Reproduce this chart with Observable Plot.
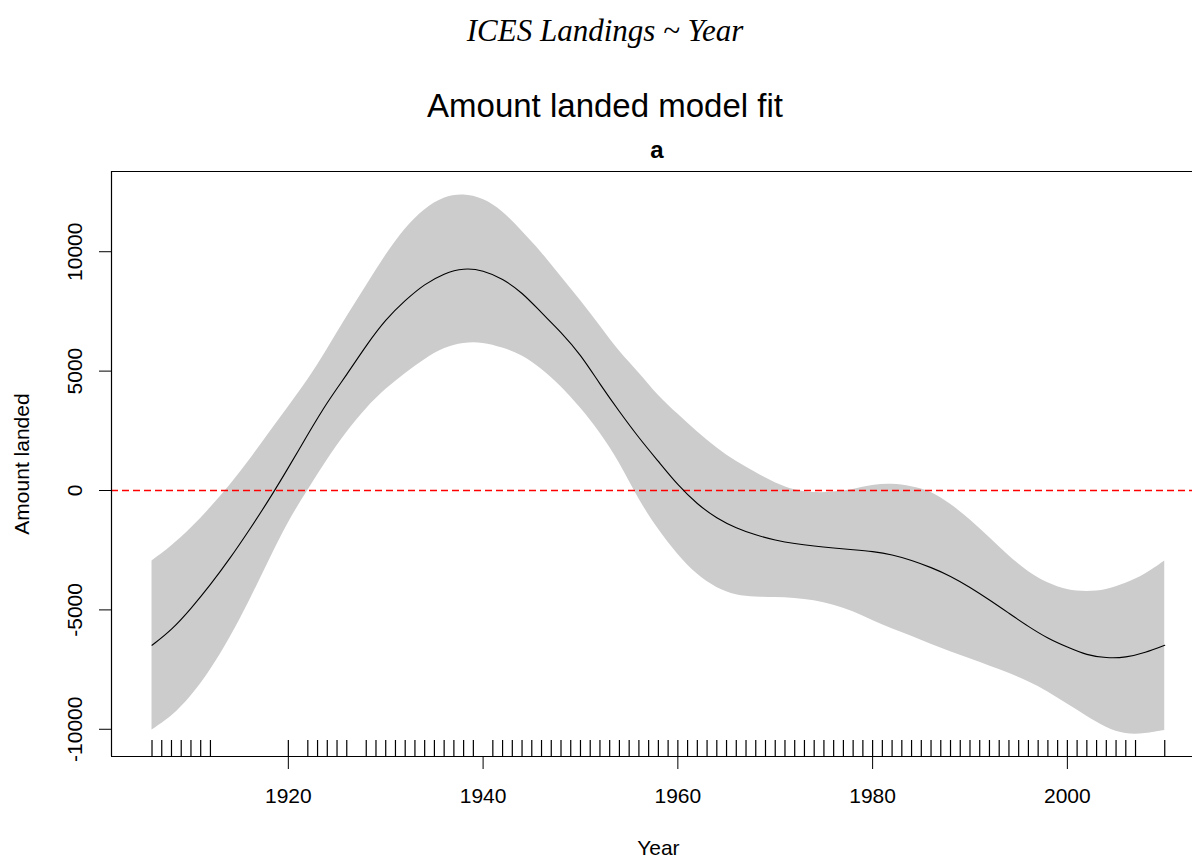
<!DOCTYPE html>
<html>
<head>
<meta charset="utf-8">
<script src="https://cdn.jsdelivr.net/npm/d3@7"></script>
<script src="https://cdn.jsdelivr.net/npm/@observablehq/plot@0.6"></script>
<style>
html, body { margin: 0; padding: 0; background: #fff; }
#wrap { position: relative; width: 1192px; height: 859px; overflow: hidden; font-family: "Liberation Sans", Arial, sans-serif; color: #000; }
#header { position: relative; height: 160px; }
.t { position: absolute; white-space: nowrap; transform: translate(-50%, -50%); line-height: 1; }
#t1 { left: 605px; top: 30px; font-family: "Liberation Serif", serif; font-style: italic; font-size: 31px; }
#t2 { left: 605px; top: 105px; font-size: 33px; }
#t3 { left: 657px; top: 150px; font-size: 24px; font-weight: bold; }
#chart svg { display: block; }
</style>
</head>
<body>
<div id="wrap">
  <div id="header">
    <div class="t" id="t1"></div>
    <div class="t" id="t2"></div>
    <div class="t" id="t3"></div>
  </div>
  <div id="chart"></div>
</div>
<script>
const formulaTitle = "ICES Landings ~ Year";
const mainTitle = "Amount landed model fit";
const panelTitle = "a";
const xLabel = "Year";
const yLabel = "Amount landed";

const years = [1906,1908,1910,1912,1914,1916,1918,1920,1922,1924,1926,1928,1930,1932,1934,1936,1938,1940,1942,1944,1946,1948,1950,1952,1954,1956,1958,1960,1962,1964,1966,1968,1970,1972,1974,1976,1978,1980,1982,1984,1986,1988,1990,1992,1994,1996,1998,2000,2002,2004,2006,2008,2010];
const fit = [-6480,-5850,-4950,-3950,-2850,-1650,-400,950,2350,3710,4850,6080,7170,7970,8650,9100,9320,9230,8870,8300,7440,6640,5700,4450,3300,2200,1220,220,-580,-1170,-1580,-1870,-2080,-2230,-2330,-2410,-2480,-2550,-2680,-2920,-3220,-3580,-4050,-4580,-5140,-5700,-6200,-6560,-6900,-7020,-7000,-6790,-6480];
const upper = [-2950,-2350,-1600,-740,200,1250,2400,3500,4600,5900,7280,8560,9870,11000,11800,12300,12430,12240,11720,10860,9990,8950,7980,6900,5800,4950,3950,3200,2450,1770,1200,750,300,0,-110,-80,30,230,290,170,-30,-560,-1200,-1960,-2750,-3420,-3900,-4180,-4250,-4180,-3900,-3540,-2950];
const lower = [-10030,-9500,-8650,-7550,-6200,-4650,-2950,-1300,0,1300,2450,3450,4250,4900,5500,5980,6190,6200,5980,5680,5100,4380,3480,2450,1200,-400,-1650,-2700,-3550,-4100,-4400,-4470,-4480,-4510,-4600,-4800,-5050,-5450,-5800,-6100,-6450,-6750,-7050,-7350,-7650,-8000,-8420,-8950,-9450,-9950,-10230,-10200,-10050];
const rugYears = [1906,1907,1908,1909,1910,1911,1912,1920,1922,1923,1924,1925,1926,
  1928,1929,1930,1931,1932,1933,1934,1935,1936,1937,1938,1939,
  1941,1942,1943,1944,1945,1946,1947,1948,1949,1950,1951,1952,1953,1954,1955,1956,1957,1958,1959,1960,
  1961,1962,1963,1964,1965,1966,1967,1968,1969,1970,1971,1972,1973,1974,1975,1976,1977,1978,1979,1980,
  1981,1982,1983,1984,1985,1986,1987,1988,1989,1990,1991,1992,1993,1994,1995,1996,1997,1998,1999,2000,
  2001,2002,2003,2004,2005,2006,2007,2010];
const xTicks = [1920,1940,1960,1980,2000];
const yTicks = [-10000,-5000,0,5000,10000];
const xDomain = [1901.84, 2012.85];
const yDomain = [-11140, 13360];
const xCenter = 1958;
const rugLen = 670;

document.getElementById("t1").textContent = formulaTitle;
document.getElementById("t2").textContent = mainTitle;
document.getElementById("t3").textContent = panelTitle;

const data = years.map((year, i) => ({year, fit: fit[i], upper: upper[i], lower: lower[i]}));

const chart = Plot.plot({
  width: 1192,
  height: 699,
  marginTop: 11,
  marginBottom: 103,
  marginLeft: 111,
  marginRight: 0,
  style: {fontFamily: "Liberation Sans, Arial, sans-serif", fontSize: "20px", color: "#000", background: "#fff", overflow: "visible"},
  x: {domain: xDomain, axis: null},
  y: {domain: yDomain, axis: null},
  marks: [
    Plot.areaY(data, {x: "year", y1: "lower", y2: "upper", fill: "#cccccc", curve: "basis"}),
    Plot.ruleY([0], {stroke: "#ff0000", strokeWidth: 1.4, strokeDasharray: "7,4"}),
    Plot.line(data, {x: "year", y: "fit", stroke: "#000", strokeWidth: 1.1, curve: "basis"}),
    Plot.ruleX(rugYears, {x: d => d, y1: yDomain[0], y2: yDomain[0] + rugLen, stroke: "#000", strokeWidth: 1.2}),
    Plot.ruleY([yDomain[1]], {stroke: "#000", strokeWidth: 1.2}),
    Plot.ruleY([yDomain[0]], {stroke: "#000", strokeWidth: 1.2}),
    Plot.ruleX([xDomain[0]], {stroke: "#000", strokeWidth: 1.2}),
    Plot.axisX({ticks: xTicks, tickSize: 13, tickPadding: 19, fontSize: 21, label: null, tickFormat: d => String(d)}),
    Plot.axisY({ticks: yTicks, tickSize: 12, label: null, tickFormat: () => ""}),
    Plot.text(yTicks, {y: d => d, text: d => String(d), frameAnchor: "left", textAnchor: "middle", rotate: -90, dx: -36, fontSize: 21, lineAnchor: "middle"}),
    Plot.text([yLabel], {text: d => d, frameAnchor: "left", textAnchor: "middle", rotate: -90, dx: -89, fontSize: 21, lineAnchor: "middle"}),
    Plot.text([xCenter], {x: d => d, text: () => xLabel, frameAnchor: "bottom", dy: 92, fontSize: 21, lineAnchor: "middle"})
  ]
});
document.getElementById("chart").appendChild(chart);
</script>
</body>
</html>
